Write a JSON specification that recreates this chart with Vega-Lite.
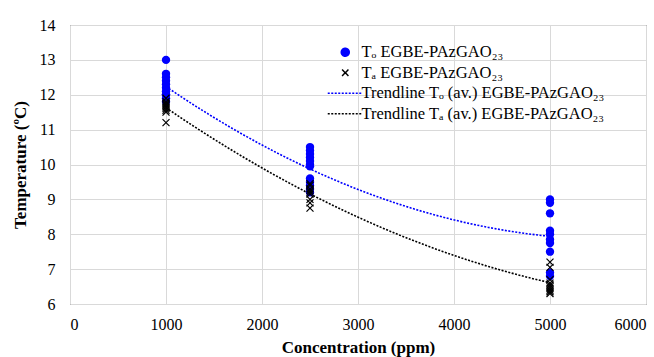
{
  "$schema": "https://vega.github.io/schema/vega-lite/v6.json",
  "width": 576,
  "height": 279,
  "autosize": {"type": "none"},
  "padding": {"left": 70, "top": 25, "right": 8, "bottom": 53},
  "config": {
    "font": "Liberation Serif",
    "view": {"stroke": "#404040", "strokeWidth": 1},
    "axis": {"labelFont": "Liberation Serif", "titleFont": "Liberation Serif", "labelFontSize": 16, "titleFontSize": 17, "labelColor": "#000", "titleColor": "#000", "gridColor": "#d9d9d9", "ticks": false, "domain": false, "titleFontWeight": "bold"},
    "legend": {"labelFont": "Liberation Serif", "labelFontSize": 16.5, "labelColor": "#000", "labelLimit": 0, "symbolSize": 1225}
  },
  "data": {"values": [
    {"c": 1000, "t": 13.0, "s": "To", "tr": "TrTo"},
    {"c": 1000, "t": 12.6, "s": "To", "tr": "TrTo"},
    {"c": 1000, "t": 12.5, "s": "To", "tr": "TrTo"},
    {"c": 1000, "t": 12.4, "s": "To", "tr": "TrTo"},
    {"c": 1000, "t": 12.3, "s": "To", "tr": "TrTo"},
    {"c": 1000, "t": 12.2, "s": "To", "tr": "TrTo"},
    {"c": 1000, "t": 12.1, "s": "To", "tr": "TrTo"},
    {"c": 1000, "t": 12.0, "s": "To", "tr": "TrTo"},
    {"c": 1000, "t": 12.0, "s": "To", "tr": "TrTo"},
    {"c": 1000, "t": 12.0, "s": "To", "tr": "TrTo"},
    {"c": 1000, "t": 11.9, "s": "To", "tr": "TrTo"},
    {"c": 1000, "t": 11.8, "s": "To", "tr": "TrTo"},
    {"c": 2500, "t": 10.5, "s": "To", "tr": "TrTo"},
    {"c": 2500, "t": 10.4, "s": "To", "tr": "TrTo"},
    {"c": 2500, "t": 10.3, "s": "To", "tr": "TrTo"},
    {"c": 2500, "t": 10.2, "s": "To", "tr": "TrTo"},
    {"c": 2500, "t": 10.1, "s": "To", "tr": "TrTo"},
    {"c": 2500, "t": 10.0, "s": "To", "tr": "TrTo"},
    {"c": 2500, "t": 9.95, "s": "To", "tr": "TrTo"},
    {"c": 2500, "t": 9.6, "s": "To", "tr": "TrTo"},
    {"c": 2500, "t": 9.5, "s": "To", "tr": "TrTo"},
    {"c": 2500, "t": 9.4, "s": "To", "tr": "TrTo"},
    {"c": 2500, "t": 9.3, "s": "To", "tr": "TrTo"},
    {"c": 2500, "t": 9.2, "s": "To", "tr": "TrTo"},
    {"c": 5000, "t": 9.0, "s": "To", "tr": "TrTo"},
    {"c": 5000, "t": 8.9, "s": "To", "tr": "TrTo"},
    {"c": 5000, "t": 8.6, "s": "To", "tr": "TrTo"},
    {"c": 5000, "t": 8.1, "s": "To", "tr": "TrTo"},
    {"c": 5000, "t": 8.0, "s": "To", "tr": "TrTo"},
    {"c": 5000, "t": 7.85, "s": "To", "tr": "TrTo"},
    {"c": 5000, "t": 7.75, "s": "To", "tr": "TrTo"},
    {"c": 5000, "t": 7.5, "s": "To", "tr": "TrTo"},
    {"c": 5000, "t": 6.9, "s": "To", "tr": "TrTo"},
    {"c": 5000, "t": 6.8, "s": "To", "tr": "TrTo"},
    {"c": 1000, "t": 11.9, "s": "Ta", "tr": "TrTa"},
    {"c": 1000, "t": 11.8, "s": "Ta", "tr": "TrTa"},
    {"c": 1000, "t": 11.75, "s": "Ta", "tr": "TrTa"},
    {"c": 1000, "t": 11.7, "s": "Ta", "tr": "TrTa"},
    {"c": 1000, "t": 11.65, "s": "Ta", "tr": "TrTa"},
    {"c": 1000, "t": 11.6, "s": "Ta", "tr": "TrTa"},
    {"c": 1000, "t": 11.55, "s": "Ta", "tr": "TrTa"},
    {"c": 1000, "t": 11.5, "s": "Ta", "tr": "TrTa"},
    {"c": 1000, "t": 11.2, "s": "Ta", "tr": "TrTa"},
    {"c": 2500, "t": 9.45, "s": "Ta", "tr": "TrTa"},
    {"c": 2500, "t": 9.4, "s": "Ta", "tr": "TrTa"},
    {"c": 2500, "t": 9.3, "s": "Ta", "tr": "TrTa"},
    {"c": 2500, "t": 9.25, "s": "Ta", "tr": "TrTa"},
    {"c": 2500, "t": 9.2, "s": "Ta", "tr": "TrTa"},
    {"c": 2500, "t": 9.15, "s": "Ta", "tr": "TrTa"},
    {"c": 2500, "t": 9.0, "s": "Ta", "tr": "TrTa"},
    {"c": 2500, "t": 8.9, "s": "Ta", "tr": "TrTa"},
    {"c": 2500, "t": 8.75, "s": "Ta", "tr": "TrTa"},
    {"c": 5000, "t": 7.2, "s": "Ta", "tr": "TrTa"},
    {"c": 5000, "t": 7.05, "s": "Ta", "tr": "TrTa"},
    {"c": 5000, "t": 6.7, "s": "Ta", "tr": "TrTa"},
    {"c": 5000, "t": 6.6, "s": "Ta", "tr": "TrTa"},
    {"c": 5000, "t": 6.55, "s": "Ta", "tr": "TrTa"},
    {"c": 5000, "t": 6.5, "s": "Ta", "tr": "TrTa"},
    {"c": 5000, "t": 6.45, "s": "Ta", "tr": "TrTa"},
    {"c": 5000, "t": 6.4, "s": "Ta", "tr": "TrTa"},
    {"c": 5000, "t": 6.35, "s": "Ta", "tr": "TrTa"},
    {"c": 5000, "t": 6.3, "s": "Ta", "tr": "TrTa"}
  ]},
  "encoding": {
    "x": {"field": "c", "type": "quantitative", "scale": {"domain": [0, 6000]}, "axis": {"title": "Concentration (ppm)", "format": "d", "values": [0, 1000, 2000, 3000, 4000, 5000, 6000], "labelPadding": 12, "titlePadding": 7, "grid": true}},
    "y": {"field": "t", "type": "quantitative", "scale": {"domain": [6, 14], "zero": false}, "axis": {"title": "Temperature (ºC)", "values": [6, 7, 8, 9, 10, 11, 12, 13, 14], "labelPadding": 15, "titlePadding": 10, "grid": true}}
  },
  "layer": [
    {
      "transform": [{"regression": "t", "on": "c", "groupby": ["tr"], "method": "poly", "order": 2}],
      "mark": {"type": "line", "strokeDash": [2, 1.5], "strokeWidth": 1.6},
      "encoding": {
        "detail": {"field": "tr"},
        "color": {
          "field": "tr", "type": "nominal",
          "scale": {"domain": ["To", "Ta", "TrTo", "TrTa"], "range": ["#0000ff", "#000000", "#0000ff", "#000000"]},
          "legend": {
            "title": null,
            "orient": "none",
            "legendX": 267,
            "legendY": 19,
            "rowPadding": 3.5,
            "labelOffset": 8,
            "labelExpr": "datum.value == 'To' ? 'Tₒ EGBE-PAzGAO₂₃' : datum.value == 'Ta' ? 'Tₐ EGBE-PAzGAO₂₃' : datum.value == 'TrTo' ? 'Trendline Tₒ (av.) EGBE-PAzGAO₂₃' : 'Trendline Tₐ (av.) EGBE-PAzGAO₂₃'",
            "encode": {
              "symbols": {
                "update": {
                  "shape": {"signal": "datum.value == 'To' ? 'circle' : datum.value == 'Ta' ? 'M-1,-1L1,1M-1,1L1,-1' : 'stroke'"},
                  "size": {"signal": "datum.value == 'To' ? 64 : datum.value == 'Ta' ? 40 : 1225"},
                  "fill": {"signal": "datum.value == 'To' ? '#0000ff' : 'transparent'"},
                  "stroke": {"signal": "datum.value == 'To' ? 'transparent' : datum.value == 'TrTo' ? '#0000ff' : '#000000'"},
                  "strokeDash": {"signal": "datum.value == 'TrTo' || datum.value == 'TrTa' ? [2, 1.5] : [1, 0]"},
                  "strokeWidth": {"signal": "datum.value == 'TrTo' || datum.value == 'TrTa' ? 1.6 : 1.5"},
                  "opacity": {"value": 1}
                }
              }
            }
          }
        }
      }
    },
    {
      "transform": [{"filter": "datum.s == 'To'"}],
      "mark": {"type": "point", "filled": true, "shape": "circle", "size": 70, "opacity": 1},
      "encoding": {
        "color": {"field": "s", "type": "nominal"}
      }
    },
    {
      "transform": [{"filter": "datum.s == 'Ta'"}],
      "mark": {"type": "point", "filled": false, "shape": "M-1,-1L1,1M-1,1L1,-1", "size": 49, "strokeWidth": 1.2, "opacity": 1},
      "encoding": {
        "color": {"field": "s", "type": "nominal"}
      }
    }
  ]
}
